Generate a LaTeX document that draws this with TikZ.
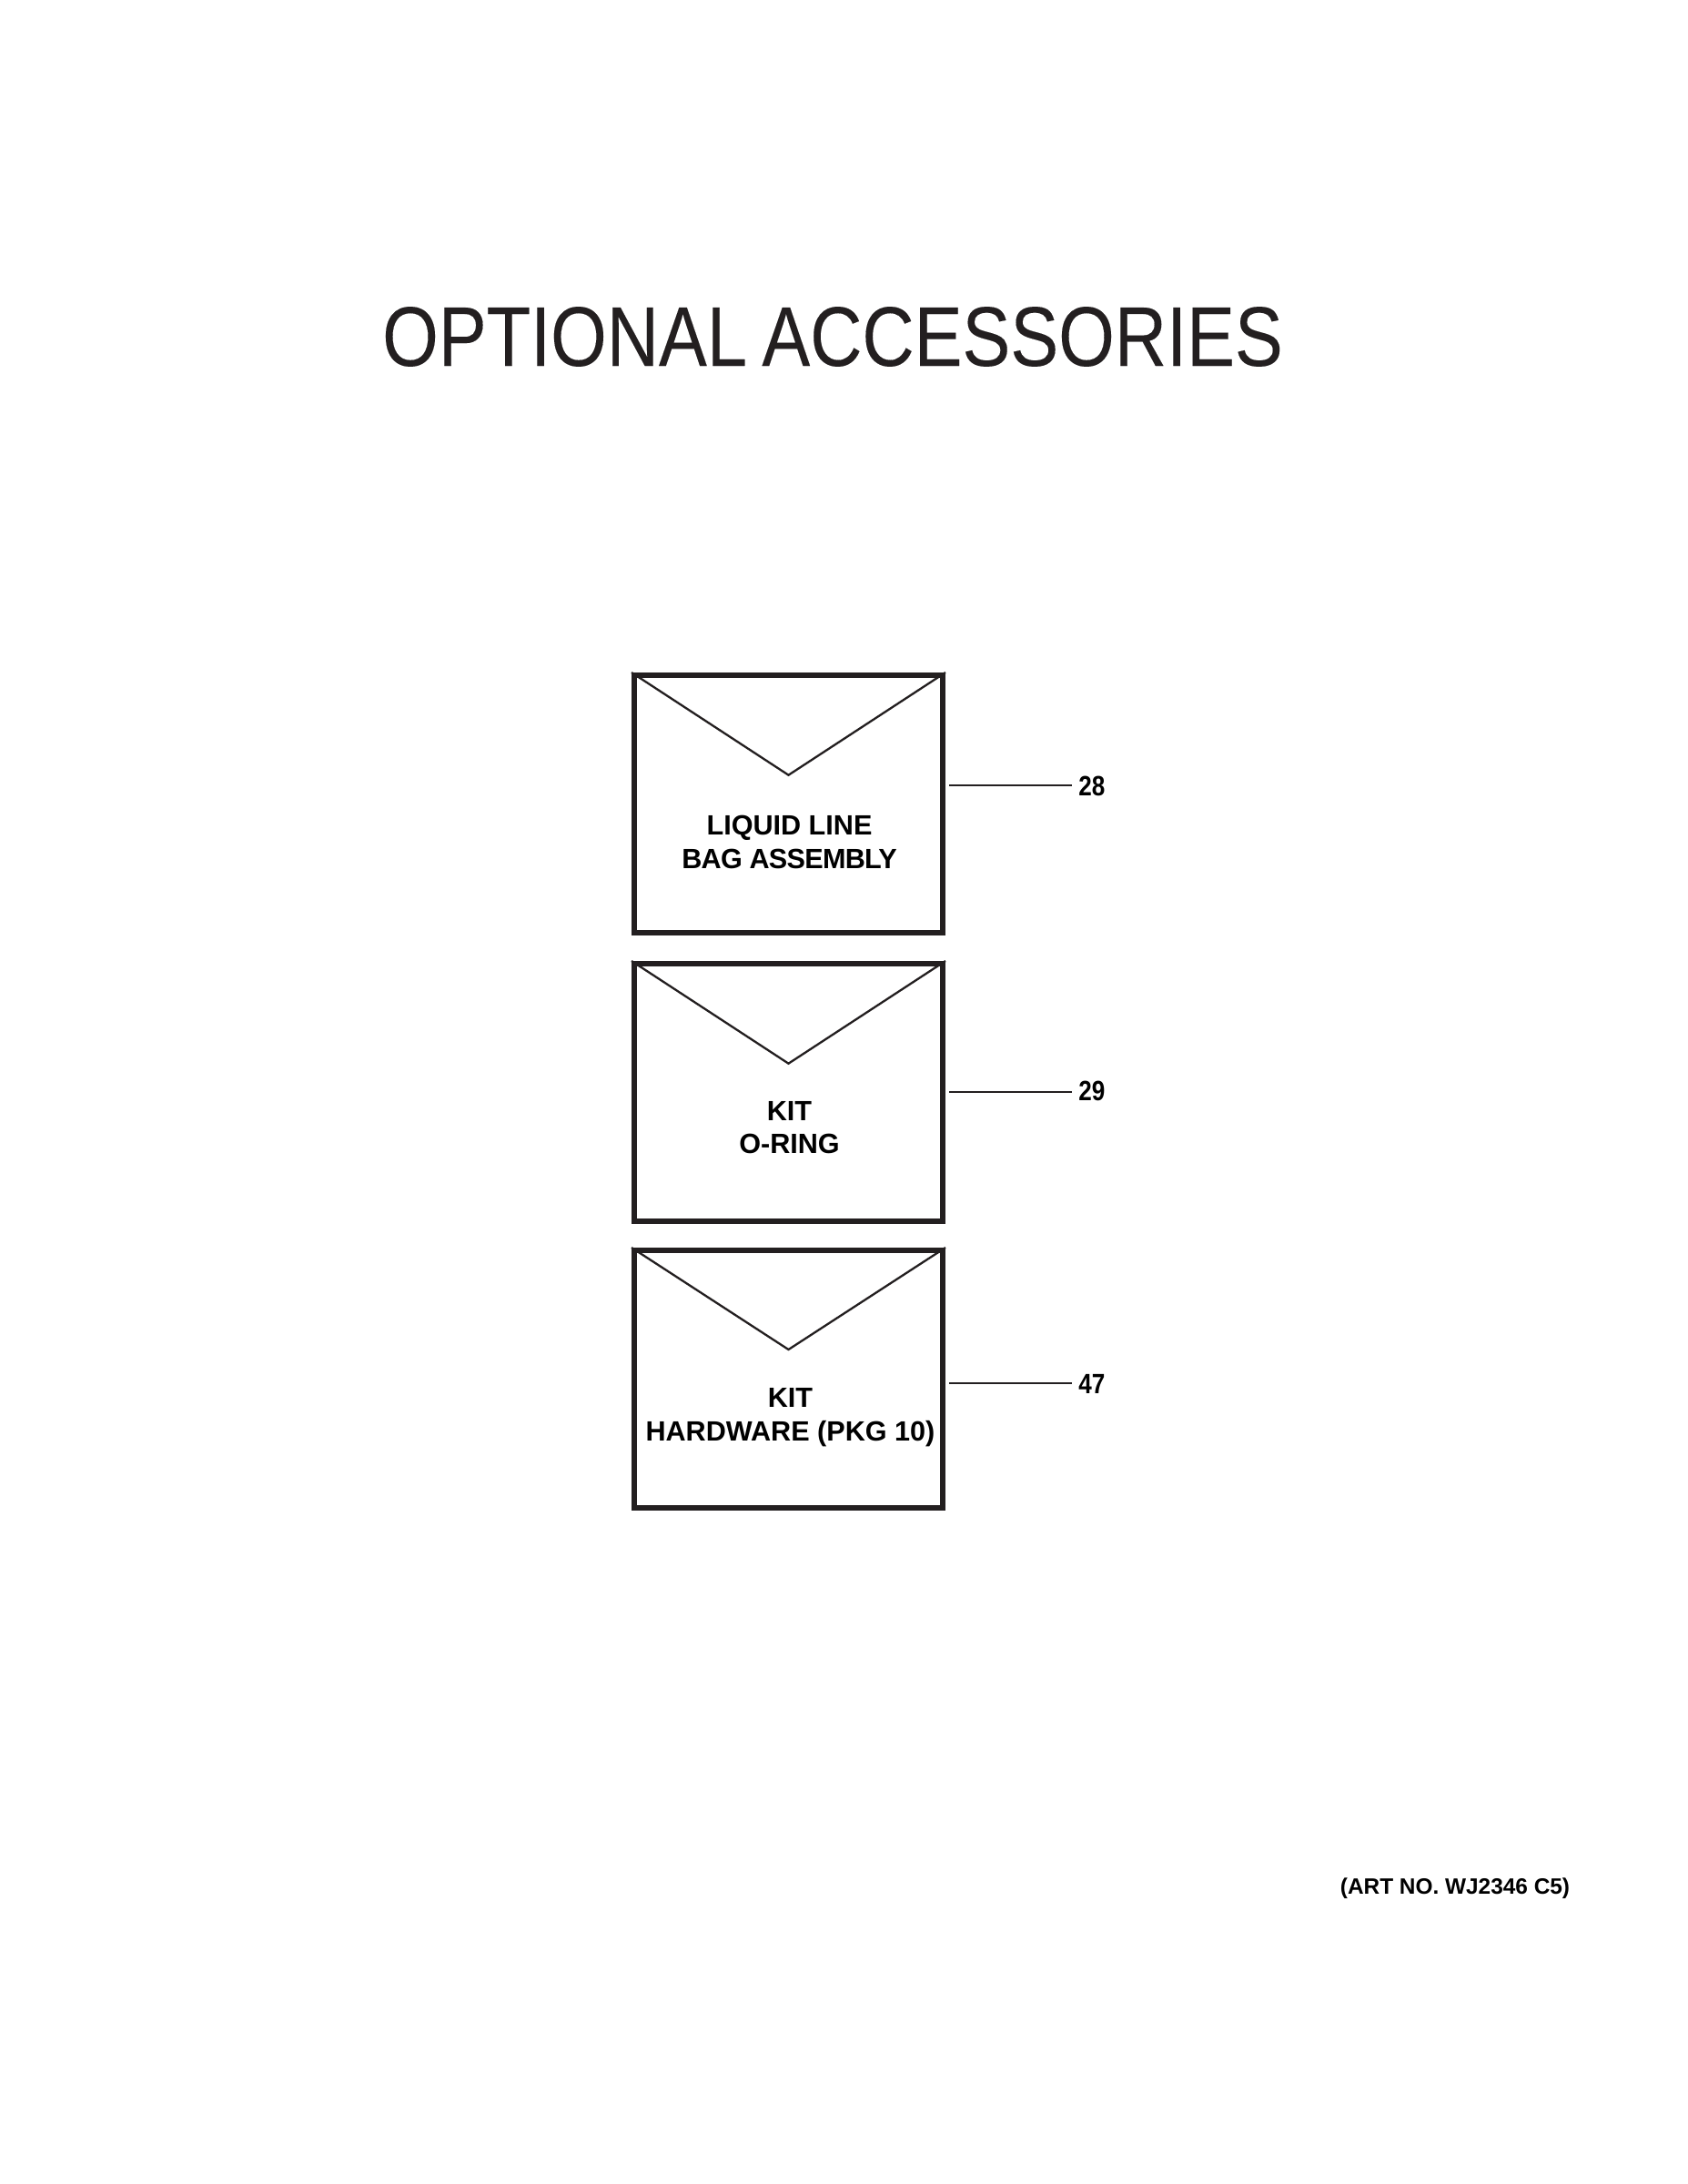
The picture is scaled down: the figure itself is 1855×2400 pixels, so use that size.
\documentclass[tikz,border=0pt]{standalone}
\usepackage{fontspec}
\setmainfont{Liberation Sans}
\newfontfamily\titlefont[FakeStretch=0.852,FakeBold=0.12,WordSpace=0.75]{Liberation Sans}
\newfontfamily\numfont[FakeStretch=0.85]{Liberation Sans}
\usetikzlibrary{positioning}
\definecolor{inkdark}{HTML}{231F20}

\begin{document}
\begin{tikzpicture}[x=0.5pt,y=-0.5pt]
\tikzset{
    bag/.style={draw=inkdark,line width=3pt,minimum width=169.5pt,minimum height=141.25pt,inner sep=0pt},
    flap/.style={draw=inkdark,line width=1.15pt,line join=miter},
    leader/.style={draw=inkdark,line width=1.15pt},
    bagtext/.style={align=center,inner sep=0pt,font=\fontsize{15.3pt}{18.35pt}\selectfont\bfseries},
    partno/.style={inner xsep=3.5pt,inner ysep=0pt,font=\fontsize{15.35pt}{18pt}\numfont\bfseries},
}
    \useasboundingbox (0,0) rectangle (1855,2400);

    \node[inner sep=0pt,text=inkdark,font=\fontsize{46.5pt}{50pt}\titlefont] (title) at (915,370) {OPTIONAL ACCESSORIES};

  % first bag
    \node[bag] (B1) at (866.5,883.25) {};
    \coordinate (F1) at (866.5,851.7);
    \draw[flap] (B1.north west) -- (F1) -- (B1.north east);
    \node[bagtext] (T1) at (867.5,925.5) {LIQUID LINE\\\addfontfeature{LetterSpace=-2.4}BAG ASSEMBLY};
    \coordinate (L1) at (1043,863);
    \node[partno,anchor=west] (N1) at (1178,863.5) {28};
    \draw[leader] (L1) -- (L1 -| N1.west);

  % second bag
    \node[bag] (B2) at (866.5,1200.25) {};
    \coordinate (F2) at (866.5,1168.7);
    \draw[flap] (B2.north west) -- (F2) -- (B2.north east);
    \node[bagtext] (T2) at (867.5,1239) {KIT\\O-RING};
    \coordinate (L2) at (1043,1200);
    \node[partno,anchor=west] (N2) at (1178,1199) {29};
    \draw[leader] (L2) -- (L2 -| N2.west);

  % third bag
    \node[bag] (B3) at (866.5,1515.25) {};
    \coordinate (F3) at (866.5,1483);
    \draw[flap] (B3.north west) -- (F3) -- (B3.north east);
    \node[bagtext] (T3) at (868.5,1557.5) {KIT\\HARDWARE (PKG 10)};
    \coordinate (L3) at (1043,1520);
    \node[partno,anchor=west] (N3) at (1178,1520.5) {47};
    \draw[leader] (L3) -- (L3 -| N3.west);

    \node[inner sep=0pt,font=\fontsize{12.2pt}{14pt}\selectfont\bfseries] (art) at (1599,2075.5) {(ART NO. WJ2346 C5)};
\end{tikzpicture}
\end{document}
